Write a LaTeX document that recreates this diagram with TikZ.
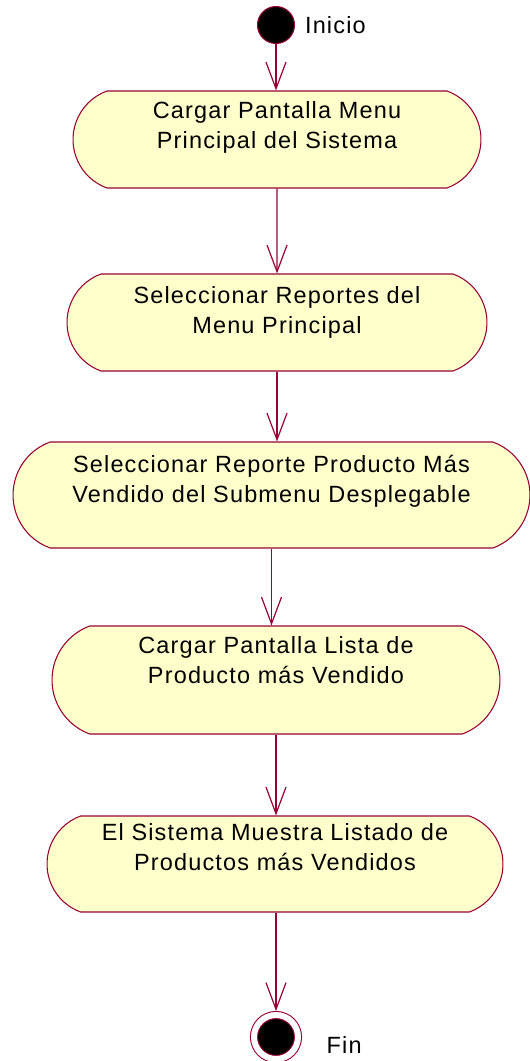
\documentclass[tikz,border=0pt]{standalone}
\usepackage{fontspec}
\setmainfont{Liberation Sans}[LetterSpace=5]
\usepackage{tikz}
\usetikzlibrary{arrows.meta, shapes.misc}

\definecolor{roseline}{RGB}{153,0,51}
\definecolor{rosefill}{RGB}{255,255,204}

\begin{document}
\begin{tikzpicture}[
    x=0.75pt, y=-0.75pt,
    act/.style   = {draw=roseline, fill=rosefill, line width=0.8pt,
                    rounded rectangle, rounded rectangle arc length=140,
                    inner sep=0pt, align=center,
                    font=\fontsize{17.6pt}{22.5pt}\selectfont},
    flow/.style  = {-{Straight Barb[length=20pt, width=15pt]},
                    draw=roseline, line width=0.9pt},
    start/.style = {circle, draw=roseline, fill=black, line width=0.8pt,
                    minimum size=27.75pt, inner sep=0pt},
    stop/.style  = {circle, draw=roseline, fill=black, line width=0.8pt,
                    double=white, double distance=4.5pt,
                    minimum size=33pt, inner sep=0pt, outer sep=3pt},
    tag/.style   = {font=\fontsize{17.6pt}{22.5pt}\selectfont}
  ]
    \useasboundingbox (0,0) rectangle (530,1061);

    \node[start, label={[tag, label distance=4pt]right:Inicio}] (inicio) at (276,25) {};

    \node[act, minimum width=306pt, minimum height=72.75pt, text depth=22.1pt]
          (act1) at (277,139.5) {Cargar Pantalla Menu\\Principal del Sistema};
    \node[act, minimum width=315pt, minimum height=72.75pt, text depth=19.1pt]
          (act2) at (277,322.5) {Seleccionar Reportes del\\Menu Principal};
    \node[act, minimum width=387.75pt, minimum height=79.5pt, text depth=24.9pt]
          (act3) at (271.5,495) {Seleccionar Reporte Producto Más\\Vendido del Submenu Desplegable};
    \node[act, minimum width=336pt, minimum height=81pt, text depth=30.4pt]
          (act4) at (276,680) {Cargar Pantalla Lista de\\Producto más Vendido};
    \node[act, minimum width=342pt, minimum height=72pt, text depth=24.9pt]
          (act5) at (275,864) {El Sistema Muestra Listado de\\Productos más Vendidos};

    \node[stop, label={[tag, label distance=15pt, yshift=-6pt]right:Fin}] (fin) at (276,1037) {};

    \draw[flow] (inicio) -- (inicio |- act1.north);
    \draw[flow] (act1) -- (act2);
    \draw[flow] (act2.south) -- (act2.south |- act3.north);
    \draw[flow] (act3.south) -- (act3.south |- act4.north);
    \draw[flow] (act4.south) -- (act4.south |- act5.north);
    \draw[flow] (act5.south -| fin) -- (fin);
  \end{tikzpicture}
\end{document}
